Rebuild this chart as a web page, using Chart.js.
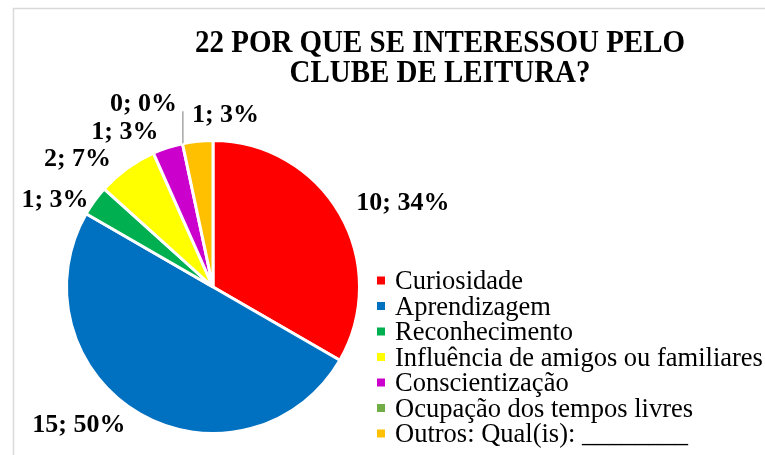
<!DOCTYPE html>
<html lang="pt">
<head>
<meta charset="utf-8">
<title>22 Por que se interessou pelo clube de leitura?</title>
<script src="https://cdn.jsdelivr.net/npm/chart.js@4/dist/chart.umd.min.js"></script>
<style>
  html, body { margin: 0; padding: 0; background: #fff; }
  canvas { display: block; }
</style>
</head>
<body>
<canvas id="grafico" width="765" height="455"></canvas>
<script>
// Categorias, respostas e percentuais
const categorias = [
  'Curiosidade',
  'Aprendizagem',
  'Reconhecimento',
  'Influência de amigos ou familiares',
  'Conscientização',
  'Ocupação dos tempos livres',
  'Outros: Qual(is): ________'
];
const respostas = [10, 15, 1, 2, 1, 0, 1];
const percentuais = ['34%', '50%', '3%', '7%', '3%', '0%', '3%'];
const cores = ['#FF0000', '#0070C0', '#00B050', '#FFFF00', '#CC00CC', '#70AD47', '#FFC000'];
const titulo = ['22 POR QUE SE INTERESSOU PELO', 'CLUBE DE LEITURA?'];

// Posição dos rótulos: ângulo (graus, a partir do topo) e distância em raios
const posRotulos = [
  [65.6, 1.438], [224.6, 1.317], [299.4, 1.251], [313.8, 1.295],
  [330.7, 1.241], [339.4, 1.363], [4.1, 1.205]
];

const serif = '"Liberation Serif", "Times New Roman", serif';

// Moldura, título, rótulos e legenda desenhados à mão
const extras = {
  id: 'extras',
  beforeDraw(chart) {
    const ctx = chart.ctx;
    ctx.save();
    ctx.fillStyle = '#fff';
    ctx.fillRect(0, 0, chart.width, chart.height);
    ctx.strokeStyle = '#d9d9d9';
    ctx.lineWidth = 1.5;
    ctx.strokeRect(13.5, 8.5, chart.width + 20, chart.height + 20);
    ctx.restore();
  },
  afterDraw(chart) {
    const ctx = chart.ctx;
    const meta = chart.getDatasetMeta(0);

    // título
    ctx.save();
    ctx.fillStyle = '#000';
    ctx.font = 'bold 32px ' + serif;
    ctx.textAlign = 'center';
    ctx.textBaseline = 'alphabetic';
    [52, 82].forEach((base, i) => {
      ctx.save();
      ctx.translate(440, base);
      ctx.scale(0.905, 1);
      ctx.fillText(titulo[i], 0, 0);
      ctx.restore();
    });
    ctx.restore();

    // rótulos de dados
    ctx.save();
    ctx.font = 'bold 26px ' + serif;
    ctx.fillStyle = '#000';
    ctx.textAlign = 'center';
    meta.data.forEach((arc, i) => {
      const p = arc.getProps(['x', 'y', 'outerRadius', 'startAngle']);
      const R = p.outerRadius - 1.5;
      const a = posRotulos[i][0] * Math.PI / 180;
      const px = p.x + posRotulos[i][1] * R * Math.sin(a);
      const py = p.y - posRotulos[i][1] * R * Math.cos(a);
      ctx.fillText(respostas[i] + '; ' + percentuais[i], px, py + 9);
      if (respostas[i] === 0) {
        const ex = p.x + R * Math.cos(p.startAngle);
        const ey = p.y + R * Math.sin(p.startAngle);
        ctx.strokeStyle = '#a6a6a6';
        ctx.lineWidth = 1.5;
        ctx.beginPath();
        ctx.moveTo(ex, ey - 2);
        ctx.lineTo(ex, ey - 34);
        ctx.stroke();
      }
    });
    ctx.restore();

    // legenda
    ctx.save();
    ctx.font = '26.5px ' + serif;
    ctx.textAlign = 'left';
    categorias.forEach((cat, i) => {
      const base = 289 + i * 25.5;
      ctx.fillStyle = cores[i];
      ctx.fillRect(377, base - 12.5, 8, 8);
      ctx.fillStyle = '#000';
      ctx.fillText(cat, 395, base);
    });
    ctx.restore();
  }
};

new Chart(document.getElementById('grafico'), {
  type: 'pie',
  data: {
    labels: categorias,
    datasets: [{
      data: respostas,
      backgroundColor: cores,
      borderColor: '#ffffff',
      borderWidth: 3
    }]
  },
  options: {
    responsive: false,
    animation: false,
    devicePixelRatio: 1,
    layout: { padding: { left: 65, right: 404, top: 139, bottom: 20 } },
    plugins: {
      legend: { display: false },
      tooltip: { enabled: false },
      title: { display: false }
    }
  },
  plugins: [extras]
});
</script>
</body>
</html>
